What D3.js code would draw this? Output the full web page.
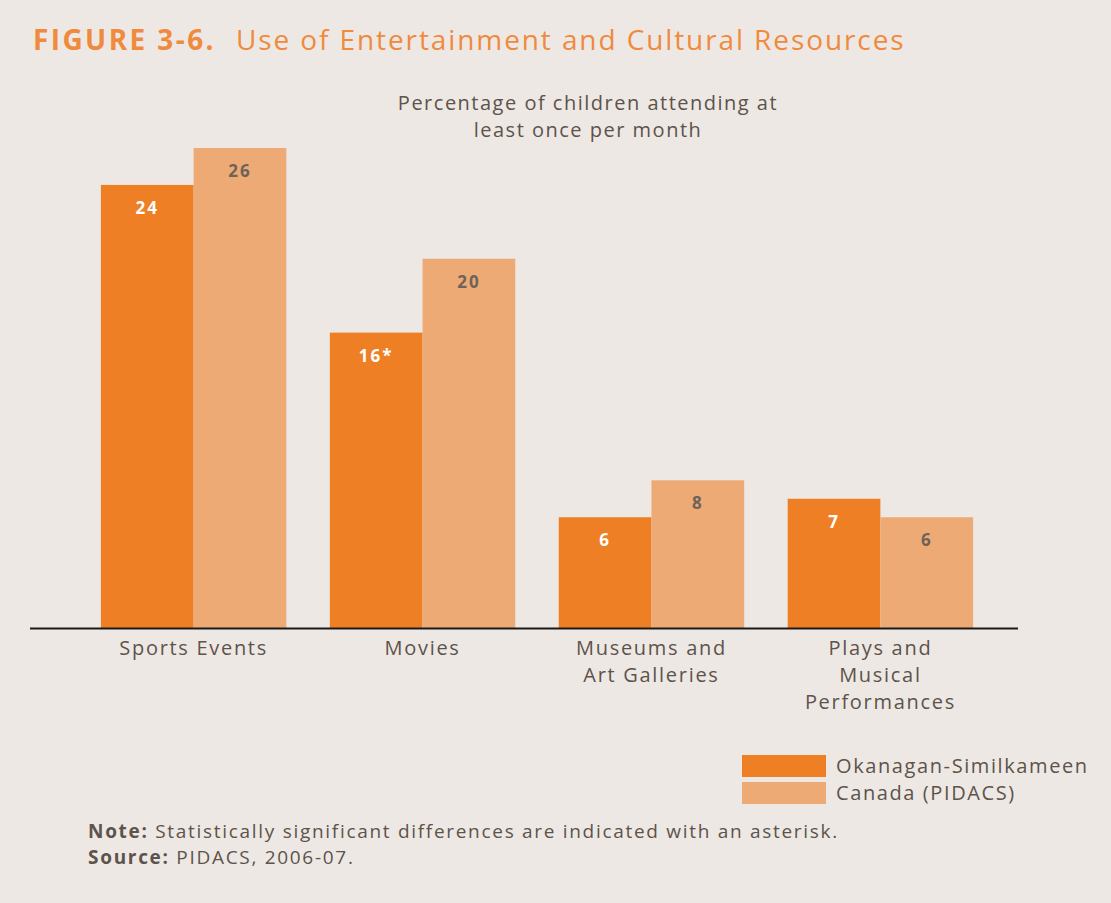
<!DOCTYPE html>
<html>
<head>
<meta charset="utf-8">
<script src="https://cdn.jsdelivr.net/npm/d3@7"></script>
<style>
  html, body { margin: 0; padding: 0; background: #ede8e4; }
  svg { display: block; font-family: "Open Sans", Lato, sans-serif; }
</style>
</head>
<body>
<div id="chart"></div>
<script>
const categories = [
  ['Sports Events'],
  ['Movies'],
  ['Museums and', 'Art Galleries'],
  ['Plays and', 'Musical', 'Performances'],
];
const seriesNames = ['Okanagan-Similkameen', 'Canada (PIDACS)'];
const okanagan = [24, 16, 6, 7];
const canada = [26, 20, 8, 6];
const okanaganLabels = ['24', '16*', '6', '7'];
const canadaLabels = ['26', '20', '8', '6'];

const width = 1111;
const height = 903;
const colors = ['#ef7f24', '#eeaa74'];
const textColor = '#5d534b';

const svg = d3.select('#chart').append('svg')
  .attr('width', width)
  .attr('height', height);

svg.append('rect')
  .attr('width', width)
  .attr('height', height)
  .attr('fill', '#ede8e4');

// title
const title = svg.append('text')
  .attr('x', 33)
  .attr('y', 50)
  .attr('fill', '#f08a3c')
  .style('font-size', '28px');
title.append('tspan')
  .attr('font-weight', 700)
  .style('letter-spacing', '2.4px')
  .text('FIGURE 3-6.');
title.append('tspan')
  .attr('x', 236)
  .style('letter-spacing', '1.9px')
  .text('Use of Entertainment and Cultural Resources');

// subtitle
svg.append('text')
  .attr('x', 588)
  .attr('y', 110)
  .attr('text-anchor', 'middle')
  .attr('fill', textColor)
  .style('font-size', '20px')
  .style('letter-spacing', '1.5px')
  .selectAll('tspan')
  .data(['Percentage of children attending at', 'least once per month'])
  .join('tspan')
  .attr('x', 588)
  .attr('dy', (d, i) => (i ? 27 : 0))
  .text((d) => d);

const baseline = 628;
const x0 = d3.scaleBand()
  .domain(d3.range(categories.length))
  .range([78, 996])
  .paddingInner(0.19)
  .paddingOuter(0.1);

const x1 = d3.scaleBand()
  .domain([0, 1])
  .range([0, x0.bandwidth()]);

const y = d3.scaleLinear()
  .domain([0, 26])
  .range([baseline, baseline - 480]);

const data = categories.map((c, i) => [
  { s: 0, v: okanagan[i], label: okanaganLabels[i] },
  { s: 1, v: canada[i], label: canadaLabels[i] },
]);

const groups = svg.selectAll('.group')
  .data(data)
  .join('g')
  .attr('class', 'group')
  .attr('transform', (d, i) => `translate(${x0(i)},0)`);

groups.selectAll('rect')
  .data((d) => d)
  .join('rect')
  .attr('x', (d) => x1(d.s))
  .attr('y', (d) => y(d.v))
  .attr('width', x1.bandwidth())
  .attr('height', (d) => baseline - y(d.v))
  .attr('fill', (d) => colors[d.s]);

groups.selectAll('.val')
  .data((d) => d)
  .join('text')
  .attr('class', 'val')
  .attr('x', (d) => x1(d.s) + x1.bandwidth() / 2)
  .attr('y', (d) => y(d.v) + 29)
  .attr('text-anchor', 'middle')
  .attr('font-weight', 700)
  .style('font-size', '17px')
  .style('letter-spacing', '2px')
  .attr('fill', (d) => (d.s ? '#6e6359' : '#ffffff'))
  .text((d) => d.label);

// axis line
const xAxis = d3.axisBottom(x0)
  .tickSize(0)
  .tickFormat('');

svg.append('g')
  .attr('transform', `translate(0,${baseline})`)
  .call(xAxis)
  .call((g) => g.select('.domain')
    .attr('d', 'M30,0.5H1018')
    .attr('stroke', '#1a1a1a')
    .attr('stroke-width', 2));

// category labels
svg.selectAll('.cat')
  .data(categories)
  .join('text')
  .attr('class', 'cat')
  .attr('text-anchor', 'middle')
  .attr('fill', textColor)
  .style('font-size', '20px')
  .style('letter-spacing', '1.7px')
  .attr('transform', (d, i) => `translate(${x0(i) + x0.bandwidth() / 2},655)`)
  .selectAll('tspan')
  .data((d) => d)
  .join('tspan')
  .attr('x', 0)
  .attr('y', (d, i) => i * 27)
  .text((d) => d);

// legend
const legend = svg.append('g')
  .attr('transform', 'translate(742,755)');
const items = legend.selectAll('g')
  .data(seriesNames)
  .join('g')
  .attr('transform', (d, i) => `translate(0,${i * 27})`);
items.append('rect')
  .attr('width', 84)
  .attr('height', 22)
  .attr('fill', (d, i) => colors[i]);
items.append('text')
  .attr('x', 94)
  .attr('y', 18)
  .attr('fill', textColor)
  .style('font-size', '20px')
  .style('letter-spacing', '1.6px')
  .text((d) => d);

// notes
const notes = svg.append('g')
  .attr('fill', textColor)
  .style('font-size', '19px')
  .style('letter-spacing', '1.7px');
const n1 = notes.append('text').attr('x', 88).attr('y', 838);
n1.append('tspan').attr('font-weight', 700).text('Note:');
n1.append('tspan').text(' Statistically significant differences are indicated with an asterisk.');
const n2 = notes.append('text').attr('x', 88).attr('y', 864);
n2.append('tspan').attr('font-weight', 700).text('Source:');
n2.append('tspan').text(' PIDACS, 2006-07.');
</script>
</body>
</html>
